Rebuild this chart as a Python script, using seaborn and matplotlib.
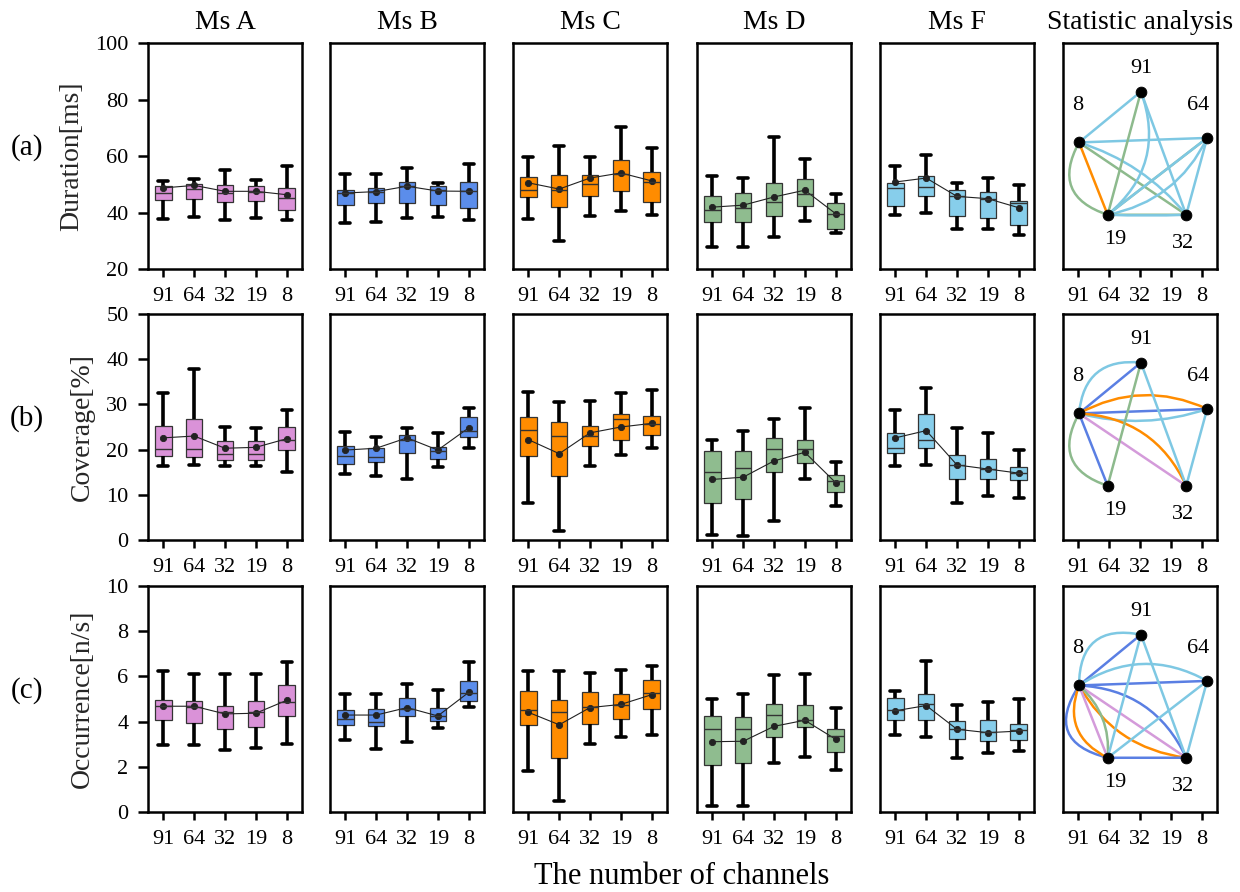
import numpy as np
import pandas as pd
import matplotlib
matplotlib.use("Agg")
import matplotlib.pyplot as plt
import seaborn as sns
from matplotlib.patches import FancyArrowPatch

# ---------------- data ----------------
channels = ["91", "64", "32", "19", "8"]
states = ["Ms A", "Ms B", "Ms C", "Ms D", "Ms F"]
state_colors = ["#DA92D8", "#5B8DEB", "#FF8C00", "#8FBC8F", "#87CEEB"]
row_tags = ["(a)", "(b)", "(c)"]
row_labels = ["Duration[ms]", "Coverage[%]", "Occurrence[n/s]"]
row_ylims = [(20, 100), (0, 50), (0, 10)]
row_yticks = [[20, 40, 60, 80, 100], [0, 10, 20, 30, 40, 50], [0, 2, 4, 6, 8, 10]]

# each box: [lower whisker, Q1, median, Q3, upper whisker], channels order 91,64,32,19,8
duration_A = [[37.8, 44.3, 47.0, 49.5, 51.1], [38.4, 44.7, 48.4, 50.2, 52.0], [37.2, 43.8, 47.0, 49.9, 55.2],
              [37.9, 44.2, 47.3, 49.4, 51.6], [37.2, 41.0, 45.1, 48.6, 56.5]]
duration_B = [[36.4, 42.6, 46.9, 48.0, 53.5], [36.6, 43.5, 47.3, 48.8, 53.5], [38.1, 43.5, 49.5, 50.8, 55.6],
              [38.4, 42.8, 48.1, 49.4, 50.5], [37.5, 41.7, 47.7, 50.7, 57.3]]
duration_C = [[37.7, 45.5, 48.1, 52.6, 59.5], [29.8, 42.0, 47.9, 53.4, 63.5], [38.7, 45.8, 50.1, 53.3, 59.5],
              [40.7, 47.6, 53.8, 58.5, 70.4], [39.0, 43.7, 50.7, 54.3, 62.8]]
duration_D = [[27.7, 36.8, 41.0, 45.7, 52.9], [27.7, 36.7, 41.6, 46.9, 52.1], [31.3, 38.7, 43.8, 50.5, 66.8],
              [37.0, 42.4, 46.7, 51.9, 59.0], [32.7, 34.2, 39.6, 43.2, 46.5]]
duration_F = [[39.1, 42.4, 48.7, 50.5, 56.4], [39.9, 45.7, 49.1, 52.8, 60.4], [34.2, 38.8, 45.8, 48.0, 50.6],
              [34.3, 38.1, 44.9, 47.3, 52.1], [31.9, 35.6, 43.4, 44.2, 49.8]]
duration_A_mean = [48.7, 49.6, 47.5, 47.5, 46.3]
duration_B_mean = [46.9, 47.4, 49.3, 47.6, 47.5]
duration_C_mean = [50.5, 48.3, 52.2, 54.0, 51.2]
duration_D_mean = [41.9, 42.6, 45.5, 47.9, 39.6]
duration_F_mean = [50.8, 52.2, 45.7, 44.9, 41.7]

coverage_A = [[16.3, 18.5, 20.2, 25.2, 32.5], [16.7, 18.3, 20.2, 26.7, 37.8], [16.3, 17.7, 19.1, 21.8, 25.0],
              [16.3, 17.6, 19.1, 22.0, 24.7], [15.1, 19.9, 22.2, 24.9, 28.7]]
coverage_B = [[14.7, 16.9, 18.6, 20.7, 23.9], [14.1, 17.2, 18.3, 20.3, 22.8], [13.6, 19.2, 22.2, 23.2, 24.8],
              [16.2, 18.0, 19.7, 20.6, 23.6], [20.3, 22.7, 24.2, 27.3, 29.1]]
coverage_C = [[8.1, 18.5, 24.4, 27.2, 32.7], [1.9, 14.1, 22.9, 26.1, 30.6], [16.3, 20.9, 23.0, 25.3, 30.7],
              [18.8, 22.2, 26.7, 27.8, 32.5], [20.4, 23.3, 25.6, 27.5, 33.1]]
coverage_D = [[1.1, 8.2, 15.0, 19.8, 22.2], [0.9, 9.1, 16.0, 19.7, 24.1], [4.1, 15.1, 20.1, 22.6, 26.7],
              [13.5, 17.1, 20.1, 22.2, 29.2], [7.5, 10.7, 13.0, 14.3, 17.2]]
coverage_F = [[16.3, 19.3, 20.4, 23.6, 28.7], [16.5, 20.3, 22.1, 27.8, 33.7], [8.2, 13.5, 16.7, 18.9, 24.7],
              [9.7, 13.5, 15.8, 17.9, 23.7], [9.3, 13.3, 14.9, 16.1, 19.9]]
coverage_A_mean = [22.6, 23.0, 20.3, 20.5, 22.4]
coverage_B_mean = [19.9, 20.3, 22.6, 19.9, 24.8]
coverage_C_mean = [22.2, 19.1, 23.7, 25.0, 25.8]
coverage_D_mean = [13.4, 13.9, 17.5, 19.4, 12.7]
coverage_F_mean = [22.6, 24.2, 16.6, 15.7, 14.8]

occurrence_A = [[2.95, 4.06, 4.68, 4.96, 6.24], [2.95, 3.95, 4.66, 4.91, 6.12], [2.76, 3.67, 4.42, 4.69, 6.09],
                [2.82, 3.76, 4.42, 4.91, 6.12], [2.99, 4.23, 4.87, 5.62, 6.65]]
occurrence_B = [[3.20, 3.86, 4.10, 4.51, 5.21], [2.77, 3.82, 3.98, 4.56, 5.21], [3.08, 4.25, 4.57, 5.06, 5.66],
                [3.70, 4.01, 4.25, 4.60, 5.41], [4.63, 4.93, 5.27, 5.78, 6.65]]
occurrence_C = [[1.81, 3.86, 4.53, 5.37, 6.24], [0.47, 2.40, 4.41, 4.96, 6.25], [2.99, 3.91, 4.66, 5.31, 6.17],
                [3.32, 4.13, 4.73, 5.24, 6.27], [3.39, 4.57, 5.25, 5.86, 6.47]]
occurrence_D = [[0.27, 2.09, 3.69, 4.25, 5.00], [0.27, 2.15, 3.69, 4.22, 5.21], [2.18, 3.30, 4.31, 4.79, 6.06],
                [2.42, 3.78, 4.09, 4.75, 6.09], [1.87, 2.64, 3.38, 3.67, 4.59]]
occurrence_F = [[3.41, 4.06, 4.53, 5.04, 5.37], [3.30, 4.06, 4.76, 5.22, 6.67], [2.40, 3.22, 3.69, 4.01, 4.75],
                [2.63, 3.16, 3.54, 4.06, 4.87], [2.70, 3.19, 3.63, 3.89, 5.01]]
occurrence_A_mean = [4.68, 4.68, 4.34, 4.37, 4.94]
occurrence_B_mean = [4.29, 4.29, 4.62, 4.25, 5.29]
occurrence_C_mean = [4.41, 3.86, 4.62, 4.76, 5.19]
occurrence_D_mean = [3.11, 3.13, 3.79, 4.06, 3.22]
occurrence_F_mean = [4.48, 4.71, 3.66, 3.51, 3.58]

# statistic-analysis network
node_names = ["91", "64", "32", "19", "8"]
node_x = [2.03, 4.18, 3.50, 0.95, 0.02]
node_y = [0.785, 0.58, 0.24, 0.24, 0.56]
edge_palette = {"pink": "#D49BDA", "blue": "#5A7FE3", "orange": "#FF8C00",
                "green": "#8DBA8D", "sky": "#7EC8E3"}
edges_a = [("8", "91", "sky", 0.0), ("8", "64", "sky", 0.0), ("8", "19", "orange", 0.0),
           ("8", "19", "green", 0.6), ("8", "32", "green", 0.0), ("8", "32", "sky", -0.15),
           ("91", "19", "green", 0.0), ("91", "19", "sky", -0.35), ("91", "32", "sky", 0.0),
           ("64", "19", "green", 0.0), ("64", "19", "sky", 0.0), ("64", "19", "sky", -0.25),
           ("64", "32", "sky", 0.0), ("19", "32", "green", 0.0), ("19", "32", "sky", 0.02)]
edges_b = [("8", "91", "sky", -0.5), ("8", "91", "blue", 0.0), ("8", "64", "orange", -0.25),
           ("8", "64", "blue", 0.0), ("8", "64", "sky", 0.15), ("8", "32", "orange", -0.3),
           ("8", "32", "pink", 0.0), ("8", "19", "blue", 0.0), ("8", "19", "green", 0.6),
           ("91", "19", "green", 0.0), ("91", "32", "sky", 0.0), ("64", "32", "sky", 0.0)]
edges_c = [("8", "91", "sky", -0.6), ("8", "91", "blue", 0.0), ("8", "64", "sky", -0.3),
           ("8", "64", "blue", 0.0), ("8", "32", "blue", -0.3), ("8", "32", "pink", 0.0),
           ("8", "32", "orange", 0.25), ("8", "19", "blue", 0.7), ("8", "19", "orange", 0.45),
           ("8", "19", "pink", 0.0), ("8", "19", "green", -0.25), ("91", "19", "sky", 0.0),
           ("91", "32", "sky", 0.0), ("64", "19", "sky", 0.0), ("64", "32", "sky", 0.0),
           ("19", "32", "blue", 0.0)]

row_stats = [
    [duration_A, duration_B, duration_C, duration_D, duration_F],
    [coverage_A, coverage_B, coverage_C, coverage_D, coverage_F],
    [occurrence_A, occurrence_B, occurrence_C, occurrence_D, occurrence_F],
]
row_means = [
    [duration_A_mean, duration_B_mean, duration_C_mean, duration_D_mean, duration_F_mean],
    [coverage_A_mean, coverage_B_mean, coverage_C_mean, coverage_D_mean, coverage_F_mean],
    [occurrence_A_mean, occurrence_B_mean, occurrence_C_mean, occurrence_D_mean, occurrence_F_mean],
]
row_edges = [edges_a, edges_b, edges_c]

# ---------------- style ----------------
sns.set_theme(style="ticks")
plt.rcParams["font.family"] = ["Liberation Serif", "DejaVu Serif"]
plt.rcParams["axes.edgecolor"] = "black"
plt.rcParams["xtick.color"] = "black"
plt.rcParams["ytick.color"] = "black"
plt.rcParams["text.color"] = "black"

W, H = 1240, 892
fig = plt.figure(figsize=(W / 100, H / 100), dpi=100)
col_left = [148, 330, 513, 697, 880, 1063]
row_top = [43, 314, 586]
ax_w, ax_h = 154, 226


def style_axes(ax, first):
    for sp in ax.spines.values():
        sp.set_linewidth(1.8)
        sp.set_color("black")
    ax.tick_params(axis="x", direction="out", length=6, width=1.8, pad=7, labelsize=16)
    if first:
        ax.tick_params(axis="y", direction="out", length=7, width=1.8, pad=7, labelsize=16)
    else:
        ax.tick_params(axis="y", left=False, labelleft=False)


node_pos = {n: (x, y) for n, x, y in zip(node_names, node_x, node_y)}

for r in range(3):
    for c in range(6):
        ax = fig.add_axes([col_left[c] / W, 1 - (row_top[r] + ax_h) / H, ax_w / W, ax_h / H])
        if c < 5:
            stats = row_stats[r][c]
            df = pd.DataFrame([(ch, v) for ch, s in zip(channels, stats) for v in s],
                              columns=["ch", "val"])
            sns.boxplot(data=df, x="ch", y="val", order=channels, color=state_colors[c],
                        saturation=1, width=0.53, whis=(0, 100), showfliers=False,
                        linecolor="#333333", linewidth=0.9, capwidths=0.32,
                        whiskerprops=dict(color="black", linewidth=2.6),
                        capprops=dict(color="black", linewidth=2.6),
                        medianprops=dict(color="#333333", linewidth=1.0),
                        ax=ax)
            mdf = pd.DataFrame({"ch": channels, "mean": row_means[r][c]})
            sns.pointplot(data=mdf, x="ch", y="mean", order=channels, color="#222222",
                          errorbar=None, markers="o", markersize=4.5, linewidth=0.8, ax=ax)
            ax.set_ylim(*row_ylims[r])
            ax.set_yticks(row_yticks[r])
            if c == 0:
                ax.set_yticklabels([str(v) for v in row_yticks[r]])
                ax.set_ylabel(row_labels[r], fontsize=20, labelpad=8)
            else:
                ax.set_ylabel("")
        else:
            for (u, v, ck, rad) in row_edges[r]:
                p = FancyArrowPatch(node_pos[u], node_pos[v], arrowstyle="-",
                                    connectionstyle=f"arc3,rad={rad}",
                                    color=edge_palette[ck], lw=1.8,
                                    shrinkA=0, shrinkB=0, zorder=2)
                ax.add_patch(p)
            sns.scatterplot(x=node_x, y=node_y, color="black", s=60, edgecolor="black",
                            zorder=5, ax=ax, legend=False)
            label_dx = {"91": 0.0, "64": -0.3, "32": -0.1, "19": 0.25, "8": -0.05}
            label_dy = {"91": 0.10, "64": 0.145, "32": -0.125, "19": -0.11, "8": 0.165}
            for n in node_names:
                x, y = node_pos[n]
                ax.text(x + label_dx[n], y + label_dy[n], n, ha="center", va="center", fontsize=16)
            ax.set_ylim(0, 1)
            ax.set_yticks([])
            ax.set_xticks(range(len(channels)))
            ax.set_xticklabels(channels)
            ax.set_ylabel("")
        ax.set_xlim(-0.5, 4.5)
        ax.set_xlabel("")
        style_axes(ax, c == 0)
        if r == 0:
            ax.set_title(states[c] if c < 5 else "Statistic analysis", fontsize=20, pad=10)

for r in range(3):
    yc = row_top[r] + ax_h / 2 - 8
    fig.text(27 / W, 1 - yc / H, row_tags[r], fontsize=21, ha="center", va="center")

fig.text(682 / W, 1 - 877 / H, "The number of channels", fontsize=22, ha="center", va="center")

fig.savefig("out.png", dpi=100)
